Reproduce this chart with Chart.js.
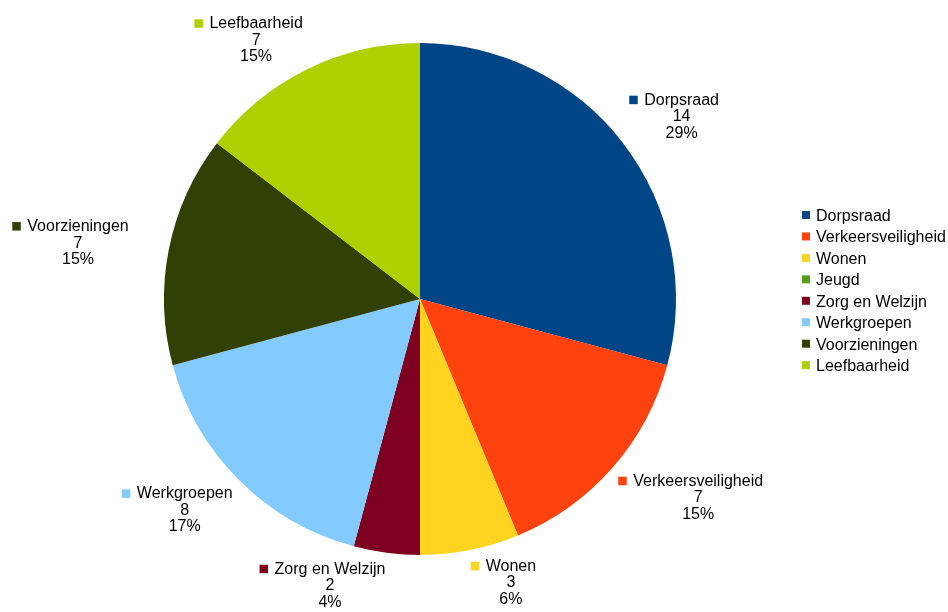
<!DOCTYPE html>
<html>
<head>
<meta charset="utf-8">
<script src="https://cdn.jsdelivr.net/npm/chart.js@4/dist/chart.umd.min.js"></script>
<style>
  html, body { margin: 0; padding: 0; background: #ffffff; }
  #wrap { width: 948px; height: 612px; position: relative; }
</style>
</head>
<body>
<div id="wrap"><canvas id="c" width="948" height="612"></canvas></div>
<script>
const categories = ['Dorpsraad', 'Verkeersveiligheid', 'Wonen', 'Jeugd', 'Zorg en Welzijn', 'Werkgroepen', 'Voorzieningen', 'Leefbaarheid'];
const values = [14, 7, 3, 0, 2, 8, 7, 7];
const colors = ['#004586', '#ff420e', '#ffd320', '#579d1c', '#7e0021', '#83caff', '#314004', '#aecf00'];

const FONT = '16px "Liberation Sans", Arial, sans-serif';

const labelPlugin = {
  id: 'outsideLabels',
  afterDatasetsDraw(chart) {
    const ctx = chart.ctx;
    const meta = chart.getDatasetMeta(0);
    const data = chart.data.datasets[0].data;
    const total = data.reduce((a, b) => a + b, 0);
    ctx.save();
    ctx.font = FONT;
    ctx.fillStyle = '#000';
    meta.data.forEach((arc, i) => {
      const v = data[i];
      if (!v) return;
      const p = arc.getProps(['x', 'y', 'startAngle', 'endAngle', 'outerRadius'], true);
      const a = (p.startAngle + p.endAngle) / 2;
      const c = Math.cos(a), s = Math.sin(a);
      const name = chart.data.labels[i];
      const nameW = ctx.measureText(name).width;
      const boxW = 14 + nameW;
      const boxH = 45;
      let left, top;
      if (Math.abs(s) < 0.25) {
        const rho = p.outerRadius + 41;
        const px = p.x + rho * c, py = p.y + rho * s;
        left = c > 0 ? px : px - boxW;
        top = py - boxH / 2 + 0.5;
      } else {
        const rho = p.outerRadius + 9;
        const px = p.x + rho * c, py = p.y + rho * s;
        left = c > 0 ? px : px - boxW;
        top = s > 0 ? py : py - boxH;
      }
      const lines = [name, String(v), Math.round(v / total * 100) + '%'];
      const textX = left + 14;
      const centerX = textX + nameW / 2;
      lines.forEach((t, k) => {
        const cy = top + 6 + k * 16.5;
        if (k === 0) {
          ctx.fillStyle = colors[i];
          ctx.fillRect(left - 1, cy - 3, 8.5, 8.5);
          ctx.fillStyle = '#000';
          ctx.textAlign = 'left';
          ctx.fillText(t, textX, cy + 6);
        } else {
          ctx.textAlign = 'center';
          ctx.fillText(t, centerX, cy + 6);
        }
      });
    });
    ctx.restore();
  }
};

const legendPlugin = {
  id: 'customLegend',
  afterDraw(chart) {
    const ctx = chart.ctx;
    ctx.save();
    ctx.font = FONT;
    ctx.textAlign = 'left';
    chart.data.labels.forEach((lab, i) => {
      const cy = 215 + i * 21.45;
      ctx.fillStyle = colors[i];
      ctx.fillRect(802, cy - 4, 8, 8);
      ctx.fillStyle = '#000';
      ctx.fillText(lab, 816, cy + 6);
    });
    ctx.restore();
  }
};

new Chart(document.getElementById('c'), {
  type: 'pie',
  data: {
    labels: categories,
    datasets: [{
      data: values,
      backgroundColor: colors,
      borderWidth: 0,
      hoverOffset: 0
    }]
  },
  options: {
    responsive: false,
    animation: false,
    layout: { padding: { left: 164, right: 272, top: 43, bottom: 57 } },
    plugins: {
      legend: { display: false },
      tooltip: { enabled: false }
    }
  },
  plugins: [labelPlugin, legendPlugin]
});
</script>
</body>
</html>
